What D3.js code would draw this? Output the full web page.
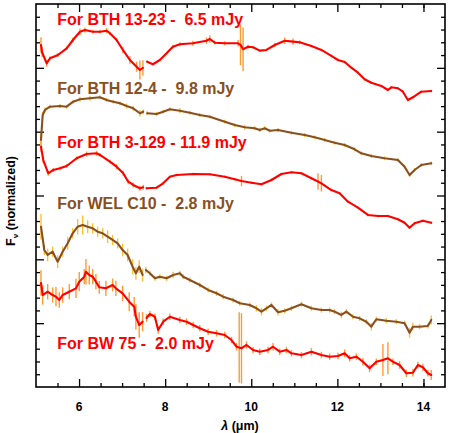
<!DOCTYPE html>
<html><head><meta charset="utf-8">
<script src="https://cdn.jsdelivr.net/npm/d3@7"></script>
<style>
body{margin:0;background:#fff}
text{font-family:"Liberation Sans",Arial,Helvetica,sans-serif;font-weight:bold}
</style>
</head><body>
<svg id="c" width="450" height="433"></svg>
<script>
// ---------------- data (wavelength in micron, normalized F_nu, error) ----------------
const xTicksMajor = [6, 8, 10, 12, 14];
const xTickLabels = ["6", "8", "10", "12", "14"];
const xTicksMinor = [5.5, 6.5, 7, 7.5, 8.5, 9, 9.5, 10.5, 11, 11.5, 12.5, 13, 13.5, 14];
const yTicksMajor = [1, 2, 3, 4, 5];

const seriesNames = ["For BTH 13-23 -  6.5 mJy", "For BTH 12-4 -  9.8 mJy", "For BTH 3-129 - 11.9 mJy", "For WEL C10 -  2.8 mJy", "For BW 75 -  2.0 mJy"];

const waveBTH1323 = [5.116,5.14,5.248,5.325,5.51,5.712,5.858,6.021,6.137,6.323,6.485,6.64,6.717,6.872,7.019,7.181,7.336,7.413,7.483,null,
  7.582,7.715,7.877,8.033,8.179,8.341,8.643,8.96,9.037,9.153,9.385,9.694,9.75,9.81,9.926,10.042,10.197,10.353,10.545,10.777,10.97,11.125,11.397,11.629,11.861,12.014,12.17,12.325,12.478,12.633,12.789,13.021,13.174,13.253,13.406,13.522,13.638,13.754,13.949,14.181];
const fluxBTH1323 = [5.358,5.248,5.071,5.15,5.201,5.306,5.436,5.566,5.593,5.566,5.566,5.582,5.541,5.436,5.28,5.123,5.018,4.966,4.998,null,
  5.096,5.056,5.123,5.228,5.331,5.369,5.385,5.425,5.452,5.394,5.385,5.385,5.36,5.291,5.331,5.322,5.269,5.28,5.358,5.425,5.41,5.4,5.342,5.28,5.186,5.123,5.092,5.002,4.924,4.821,4.767,4.716,4.653,4.695,4.68,4.626,4.496,4.539,4.626,4.637];
const errBTH1323 = [0.12,0.08,0.05,0.03,0.03,0.03,0.04,0.05,0.04,0.03,0.03,0.04,0.03,0.03,0.05,0.06,0.08,0.15,0.12,null,
  0.02,0.02,0.02,0.02,0.03,0.03,0.04,0.05,0.06,0.03,0.03,0.05,0.32,0.34,0.03,0.02,0.02,0.02,0.03,0.05,0.05,0.03,0.02,0.02,0.02,0.02,0.02,0.02,0.02,0.02,0.02,0.02,0.02,0.02,0.02,0.02,0.02,0.02,0.02,0.02];

const waveBTH124 = [5.116,5.155,5.209,5.325,5.557,5.712,5.865,6.021,6.253,6.485,6.64,6.794,6.949,7.104,7.258,7.413,7.49,null,
  7.582,7.8,7.954,8.109,8.341,8.573,8.805,9.037,9.385,9.617,9.849,10.081,10.197,10.313,10.429,10.622,10.933,11.241,11.473,11.705,11.937,12.169,12.401,12.557,12.789,13.097,13.406,13.561,13.677,13.794,13.949,14.181];
const fluxBTH124 = [3.87,4.261,4.34,4.391,4.402,4.391,4.47,4.507,4.523,4.539,4.496,4.47,4.445,4.402,4.366,4.288,4.313,null,
  4.288,4.277,4.313,4.351,4.329,4.297,4.261,4.235,4.156,4.105,4.069,4.053,4.026,4.053,4.015,4.026,3.984,3.948,3.912,3.87,3.827,3.791,3.724,3.661,3.619,3.583,3.556,3.451,3.321,3.4,3.478,3.504];
const errBTH124 = [0.1,0.05,0.04,0.03,0.03,0.03,0.03,0.04,0.04,0.03,0.03,0.03,0.03,0.04,0.04,0.05,0.04,null,
  0.03,0.03,0.03,0.03,0.04,0.03,0.03,0.03,0.03,0.03,0.04,0.03,0.03,0.03,0.03,0.03,0.03,0.03,0.03,0.03,0.03,0.03,0.03,0.03,0.03,0.03,0.03,0.03,0.03,0.03,0.03,0.03];

const waveBTH3129 = [5.116,5.169,5.285,5.401,5.557,5.712,5.944,6.176,6.408,6.485,6.717,6.872,7.026,7.142,7.258,7.413,7.49,null,
  7.568,7.8,7.954,8.109,8.265,8.65,9.037,9.385,9.617,9.773,10.005,10.237,10.469,10.701,10.933,11.165,11.397,11.55,11.629,11.861,12.053,12.246,12.478,12.71,12.942,13.174,13.406,13.561,13.677,13.794,13.986,14.181];
const fluxBTH3129 = [3.765,3.556,3.348,3.4,3.426,3.462,3.583,3.65,3.661,3.635,3.53,3.451,3.348,3.216,3.165,3.113,3.129,null,
  3.113,3.122,3.191,3.295,3.321,3.337,3.332,3.295,3.254,3.227,3.201,3.176,3.243,3.337,3.364,3.348,3.27,3.22,3.191,3.086,3.035,2.903,2.809,2.695,2.679,2.679,2.627,2.574,2.496,2.565,2.605,2.574];
const errBTH3129 = [0.08,0.05,0.04,0.03,0.03,0.03,0.03,0.04,0.04,0.03,0.03,0.04,0.04,0.04,0.04,0.04,0.04,null,
  0.02,0.02,0.02,0.02,0.02,0.02,0.02,0.02,0.02,0.08,0.02,0.02,0.02,0.02,0.02,0.02,0.02,0.13,0.13,0.02,0.02,0.02,0.02,0.02,0.02,0.02,0.02,0.02,0.02,0.02,0.02,0.02];

const waveWELC10 = [5.116,5.193,5.271,5.387,5.503,5.619,5.736,5.852,5.968,6.084,6.2,6.316,6.432,6.548,6.664,6.78,6.896,7.012,7.128,7.244,7.32,7.397,7.476,null,
  7.552,7.645,7.761,7.877,8.033,8.186,8.341,8.418,8.573,8.805,8.998,9.193,9.346,9.578,9.733,9.965,10.121,10.237,10.353,10.469,10.622,10.777,10.933,11.165,11.397,11.629,11.821,11.937,12.093,12.209,12.362,12.517,12.673,12.789,12.905,13.137,13.369,13.562,13.677,13.754,13.91,14.102,14.181];
const fluxWELC10 = [2.511,2.146,2.068,2.12,1.963,2.12,2.251,2.408,2.511,2.538,2.511,2.486,2.433,2.408,2.355,2.303,2.251,2.146,2.068,1.885,1.781,1.885,1.755,null,
  1.833,1.781,1.703,1.728,1.703,1.755,1.781,1.728,1.676,1.598,1.52,1.468,1.415,1.363,1.311,1.285,1.233,1.18,1.233,1.285,1.17,1.195,1.233,1.296,1.233,1.206,1.206,1.18,1.128,1.18,1.101,1.076,1.023,0.945,1.061,1.039,1.023,0.998,0.851,0.945,0.945,0.956,1.05];
const errWELC10 = [0.2,0.08,0.1,0.08,0.1,0.08,0.1,0.08,0.12,0.15,0.1,0.08,0.08,0.08,0.1,0.08,0.08,0.1,0.1,0.12,0.1,0.1,0.1,null,
  0.05,0.04,0.04,0.04,0.04,0.05,0.04,0.04,0.04,0.04,0.04,0.04,0.04,0.04,0.04,0.04,0.05,0.06,0.04,0.04,0.05,0.04,0.04,0.04,0.04,0.04,0.04,0.04,0.05,0.04,0.04,0.04,0.04,0.06,0.04,0.04,0.04,0.04,0.08,0.06,0.04,0.04,0.07];

const waveBW75 = [5.116,5.155,5.271,5.387,5.464,5.541,5.619,5.773,5.928,6.005,6.121,6.16,6.237,6.316,6.392,6.469,6.624,6.78,6.856,7.012,7.165,7.281,7.32,7.397,7.476,null,
  7.568,7.645,7.761,7.838,7.954,8.109,8.341,8.497,8.65,8.805,8.998,9.193,9.385,9.541,9.657,9.72,9.773,9.889,10.042,10.197,10.39,10.506,10.661,10.817,10.933,11.165,11.397,11.629,11.821,12.014,12.169,12.285,12.441,12.594,12.75,12.905,13.058,13.174,13.29,13.445,13.601,13.754,13.87,13.986,14.102,14.181];
const fluxBW75 = [1.629,1.441,1.493,1.441,1.415,1.363,1.441,1.493,1.546,1.65,1.728,1.806,1.755,1.728,1.65,1.562,1.546,1.598,1.546,1.468,1.336,1.258,1.101,0.971,1.023,null,
  1.081,1.144,1.101,0.893,1.023,1.101,1.05,1.023,0.971,0.92,0.866,0.841,0.815,0.736,0.631,0.62,0.606,0.658,0.58,0.553,0.58,0.631,0.553,0.58,0.528,0.501,0.553,0.501,0.475,0.486,0.528,0.45,0.475,0.396,0.293,0.396,0.423,0.45,0.396,0.345,0.215,0.224,0.345,0.309,0.215,0.188];
const errBW75 = [0.2,0.15,0.12,0.12,0.15,0.12,0.12,0.12,0.15,0.15,0.12,0.2,0.15,0.12,0.12,0.1,0.12,0.1,0.12,0.12,0.15,0.15,0.2,0.2,0.15,null,
  0.06,0.05,0.05,0.06,0.05,0.05,0.05,0.05,0.05,0.05,0.05,0.05,0.05,0.05,0.06,0.55,0.55,0.06,0.05,0.05,0.05,0.06,0.05,0.05,0.05,0.05,0.06,0.05,0.05,0.05,0.06,0.05,0.05,0.06,0.06,0.05,0.25,0.25,0.05,0.06,0.06,0.06,0.05,0.06,0.05,0.08];

// ---------------- layout / style ----------------
const RED = "#ff0000", BROWN = "#8a4f1e", ORANGE = "#ff9a30", GOLD = "#ffc030";
const spectra = [
  {name: seriesNames[0], wave: waveBTH1323, flux: fluxBTH1323, err: errBTH1323, color: RED, ecolor: ORANGE, labelY: 5.671},
  {name: seriesNames[1], wave: waveBTH124, flux: fluxBTH124, err: errBTH124, color: BROWN, ecolor: GOLD, labelY: 4.586},
  {name: seriesNames[2], wave: waveBTH3129, flux: fluxBTH3129, err: errBTH3129, color: RED, ecolor: ORANGE, labelY: 3.74},
  {name: seriesNames[3], wave: waveWELC10, flux: fluxWELC10, err: errWELC10, color: BROWN, ecolor: GOLD, labelY: 2.789},
  {name: seriesNames[4], wave: waveBW75, flux: fluxBW75, err: errBW75, color: RED, ecolor: ORANGE, labelY: 0.595}
];
const labelX = 5.495;

const svg = d3.select("#c");
const x = d3.scaleLinear().domain([5, 14.5]).range([36, 445]);
const y = d3.scaleLinear().domain([0, 6]).range([387, 4]);

const yMinor = d3.range(1, 30).map(i => +(i * 0.2).toFixed(1)).filter(v => !yTicksMajor.includes(v));

function tickAxis(axis, scale, values, size, transform) {
  svg.append("g").attr("transform", transform)
    .call(axis(scale).tickValues(values).tickSize(size).tickFormat(""))
    .call(g => g.select(".domain").remove())
    .call(g => g.selectAll("line").attr("stroke", "#000").attr("stroke-width", 1.3));
}
tickAxis(d3.axisBottom, x, xTicksMinor, -4, "translate(0,387)");
tickAxis(d3.axisBottom, x, xTicksMajor, -8, "translate(0,387)");
tickAxis(d3.axisTop, x, xTicksMinor, -4, "translate(0,4)");
tickAxis(d3.axisTop, x, xTicksMajor, -8, "translate(0,4)");
tickAxis(d3.axisLeft, y, yMinor, -4, "translate(36,0)");
tickAxis(d3.axisLeft, y, yTicksMajor, -8, "translate(36,0)");
tickAxis(d3.axisRight, y, yMinor, -4, "translate(445,0)");
tickAxis(d3.axisRight, y, yTicksMajor, -8, "translate(445,0)");

svg.append("g").selectAll("text").data(xTicksMajor).join("text")
  .attr("x", d => x(d)).attr("y", 411).attr("text-anchor", "middle")
  .attr("font-size", 12).attr("fill", "#000")
  .text((d, i) => xTickLabels[i]);

spectra.forEach(s => {
  const pts = s.wave.map((w, i) => ({w, f: s.flux[i], e: s.err[i] || 0})).filter(p => p.w != null && p.f != null);
  svg.append("g").selectAll("line").data(pts).join("line")
    .attr("x1", p => x(p.w)).attr("x2", p => x(p.w))
    .attr("y1", p => y(p.f + p.e)).attr("y2", p => y(p.f - p.e))
    .attr("stroke", s.ecolor).attr("stroke-width", 1.4);
});

const line = d3.line().defined(p => p.w != null && p.f != null).x(p => x(p.w)).y(p => y(p.f));
spectra.forEach(s => {
  const pts = s.wave.map((w, i) => ({w, f: s.flux[i]}));
  svg.append("path").datum(pts).attr("d", line)
    .attr("fill", "none").attr("stroke", s.color).attr("stroke-width", 2.1)
    .attr("stroke-linejoin", "round").attr("stroke-linecap", "round");
});

svg.append("g").selectAll("text").data(spectra).join("text")
  .attr("x", x(labelX)).attr("y", d => y(d.labelY))
  .attr("font-size", 16).attr("fill", d => d.color)
  .style("white-space", "pre").text(d => d.name);

svg.append("rect").attr("x", 36).attr("y", 4).attr("width", 409).attr("height", 383)
  .attr("fill", "none").attr("stroke", "#000").attr("stroke-width", 1.6);

const xt = svg.append("text").attr("x", 240).attr("y", 430).attr("text-anchor", "middle").attr("font-size", 12.5).attr("fill", "#000");
xt.append("tspan").attr("font-style", "italic").text("λ");
xt.append("tspan").text(" (μm)");

const yt = svg.append("text").attr("transform", "translate(15,201) rotate(-90)").attr("text-anchor", "middle").attr("font-size", 12.5).attr("fill", "#000");
yt.append("tspan").text("F");
yt.append("tspan").attr("font-size", 8).attr("dy", 3).text("ν");
yt.append("tspan").attr("dy", -3).text(" (normalized)");
</script>
</body></html>
